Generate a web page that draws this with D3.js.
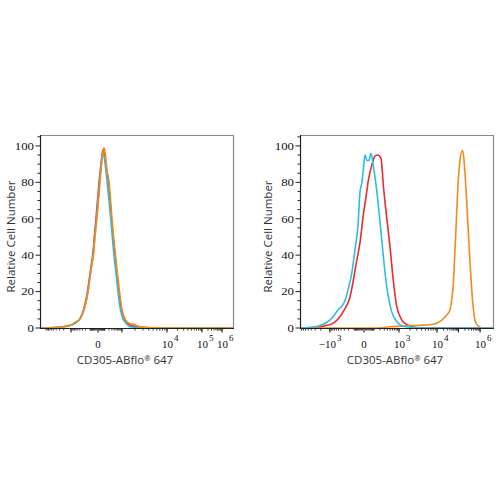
<!DOCTYPE html>
<html><head><meta charset="utf-8">
<script src="https://cdn.jsdelivr.net/npm/d3@7"></script>
<style>body{margin:0;background:#fff}svg{display:block}</style>
</head><body>
<svg id="c" width="500" height="500"></svg>
<script>
// ---- data (x in display channels 0..1000, y = relative cell number) ----
const yTicks = [0, 20, 40, 60, 80, 100];

// left panel
const leftOrangeX = [0,78,130,166,187,207,228,249,264,277,285,295,303,311,319,324,332,339,347,358,373,391,401,412,425,440,456,471,487,503,523,560,622,700,1000];
const leftOrangeY = [0,0.3,1,2,3.5,5,10,20,32,40,50,60,70,80,90,95,99,95,87,80,60,40,30,20,10,5,3,2.2,2,1.2,0.6,0.3,0.1,0,0];
const leftBlueX = [0,78,130,166,187,207,228,249,264,277,285,295,303,311,319,326,334,342,352,368,383,394,404,417,430,446,461,482,518,570,1000];
const leftBlueY = [0,0.2,0.8,1.8,3,5,10,20,32,42,52,63,73,83,92,96,93,86,76,58,40,30,20,10,5,2.5,1,0.4,0.1,0,0];
const leftRedX = [0,78,130,166,187,207,226,246,262,275,283,290,298,306,316,326,334,343,355,370,389,409,422,438,461,487,544,600,1000];
const leftRedY = [0,0.2,0.8,1.8,3,5,10,20,32,42,52,60,70,80,90,98,95,88,80,60,40,20,10,5,2,1,0.3,0,0];

// right panel
const rightOrangeX = [0,380,414,466,518,570,622,674,705,731,751,767,777,794,808,820,829,841,847,855,867,881,895,907,924,948,1000];
const rightOrangeY = [0,0,0.1,0.7,1,1.3,1.5,1.8,2.5,4,6,8,10,24,54,81,92,97.5,95,85,63,36,14,4,1,0,0];
const rightBlueX = [0,41,93,138,171,197,216,233,249,268,285,301,311,321,329,337,347,357,368,380,397,414,432,449,475,501,534,585,622,1000];
const rightBlueY = [0,0.3,1,3,6,10,12,15,21,30,43,57,75,80,88,95,92,92,96,89,76,59,39,23,9,3.6,1,0.3,0,0];
const rightRedX = [0,87,130,173,224,259,294,311,328,342,354,371,389,404,420,432,449,466,483,501,527,553,579,605,648,1000];
const rightRedY = [0,0.3,1.2,2.7,9,17,37,47,62,72,81,89,94.5,95,93,78,61,45,26.5,12,4.5,2,0.7,0.2,0,0];

// x-axis decades (value) and their display channel, per panel
const decadeValues = [-1e3, 0, 1e3, 1e4, 1e5, 1e6];
const leftDecadeChannels  = [160.6, 300.5, 424.8, 658, 839, 943];
const rightDecadeChannels = [155, 331.6, 513, 710, 821, 933];
const leftTickLabels  = [{v:0, base:"0", exp:""}, {v:1e4, base:"10", exp:"4"}, {v:1e5, base:"10", exp:"5"}, {v:1e6, base:"10", exp:"6"}];
const rightTickLabels = [{v:-1e3, base:"\u221210", exp:"3"}, {v:0, base:"0", exp:""}, {v:1e3, base:"10", exp:"3"}, {v:1e4, base:"10", exp:"4"}, {v:1e6, base:"10", exp:"6"}];

const yLabel = "Relative Cell Number";
const xLabel = "CD305-ABflo";

const colors = {red:"#ec2a2f", blue:"#2bbde6", orange:"#f48a1a"};

// ---- drawing ----
const svg = d3.select("#c");
const plotTop = 135, plotBottom = 328;
const serif = "Liberation Serif, Times New Roman, serif";

function minorValues(){
  const out = [];
  for (let d = 10; d <= 1e5; d *= 10)
    for (let k = 1; k <= 9; k++) { out.push(k*d); out.push(-k*d); }
  out.push(1e6);
  return out.filter(v => Math.abs(v) > 0);
}

function drawPanel(cfg){
  const g = svg.append("g");
  const x = d3.scaleLinear().domain([0,1000]).range([cfg.x0, cfg.x1]);
  const y = d3.scaleLinear().domain([0,106]).range([plotBottom, plotTop]);
  const vx = d3.scaleSymlog().constant(100).domain(decadeValues).range(cfg.decCh.map(c => x(c)));

  // frame
  g.append("line").attr("x1",cfg.x0).attr("x2",cfg.x1).attr("y1",plotTop+0.5).attr("y2",plotTop+0.5).attr("stroke","#8a8a8a").attr("stroke-width",1.2);
  g.append("line").attr("x1",cfg.x1+0.5).attr("x2",cfg.x1+0.5).attr("y1",plotTop).attr("y2",plotBottom).attr("stroke","#8a8a8a").attr("stroke-width",1.2);

  // curves
  const line = d3.line().x(d => x(d[0])).y(d => y(d[1])).curve(d3.curveMonotoneX);
  cfg.series.forEach(s => {
    g.append("path").datum(s.x.map((v,i)=>[v, s.y[i]]))
      .attr("d", line).attr("fill","none").attr("stroke", s.color).attr("stroke-width",1.6).attr("stroke-linejoin","round");
  });

  // y axis
  g.append("line").attr("x1",cfg.x0+0.5).attr("x2",cfg.x0+0.5).attr("y1",plotTop).attr("y2",plotBottom+0.5).attr("stroke","#222").attr("stroke-width",1.2);
  const yMinor = d3.range(0, 106, 5);
  g.selectAll(null).data(yMinor).enter().append("line")
    .attr("x1", d => cfg.x0 - (d % 20 === 0 ? 4.5 : 2.5)).attr("x2", cfg.x0)
    .attr("y1", d => y(d)).attr("y2", d => y(d)).attr("stroke","#222").attr("stroke-width",1);
  g.selectAll(null).data(yTicks).enter().append("text")
    .attr("x", cfg.x0 - 6).attr("y", d => y(d) + 3.8).attr("text-anchor","end")
    .attr("font-family",serif).attr("font-size",11).attr("fill","#111")
    .attr("textLength", d => String(d).length * 6.4).attr("lengthAdjust","spacingAndGlyphs")
    .text(d => d);

  // x axis
  g.append("line").attr("x1",cfg.x0).attr("x2",cfg.x1+1).attr("y1",plotBottom+0.5).attr("y2",plotBottom+0.5).attr("stroke","#222").attr("stroke-width",1.2);
  const minors = minorValues().map(v => vx(v)).filter(p => p >= cfg.x0 && p <= cfg.x1);
  g.selectAll(null).data(minors).enter().append("line")
    .attr("x1", d => d).attr("x2", d => d).attr("y1", plotBottom).attr("y2", plotBottom+2.5)
    .attr("stroke","#222").attr("stroke-width",0.9);
  const majors = decadeValues.map(v => vx(v)).filter(p => p >= cfg.x0 && p <= cfg.x1);
  g.selectAll(null).data(majors).enter().append("line")
    .attr("x1", d => d).attr("x2", d => d).attr("y1", plotBottom).attr("y2", plotBottom+4.5)
    .attr("stroke","#222").attr("stroke-width",1.1);
  cfg.labels.forEach(l => {
    const px = vx(l.v);
    if (l.exp) {
      g.append("text").attr("x", px + 6).attr("y", 348).attr("text-anchor","end")
        .attr("font-family",serif).attr("font-size",11).attr("fill","#111").text(l.base);
      g.append("text").attr("x", px + 7).attr("y", 341).attr("text-anchor","start")
        .attr("font-family",serif).attr("font-size",9).attr("fill","#111").text(l.exp);
    } else {
      g.append("text").attr("x", px).attr("y", 348).attr("text-anchor","middle")
        .attr("font-family",serif).attr("font-size",11).attr("fill","#111").text(l.base);
    }
  });

  // axis titles
  g.append("text").attr("transform", `translate(${cfg.yLabX},236.5) rotate(-90)`)
    .attr("text-anchor","middle").attr("font-family","Open Sans, sans-serif").attr("font-size",11.5).attr("fill","#333")
    .text(yLabel);
  const t = g.append("text").attr("x", cfg.xLabX).attr("y", 364).attr("text-anchor","middle")
    .attr("font-family","Open Sans, sans-serif").attr("font-size",11.5).attr("fill","#333");
  t.append("tspan").text(xLabel);
  t.append("tspan").attr("font-size",7.5).attr("dy",-3.5).text("\u00AE");
  t.append("tspan").attr("dy",3.5).text(" 647");
}

drawPanel({x0:40, x1:233, decCh:leftDecadeChannels, labels:leftTickLabels, yLabX:15, xLabX:125,
  series:[{x:leftRedX,y:leftRedY,color:colors.red},{x:leftBlueX,y:leftBlueY,color:colors.blue},{x:leftOrangeX,y:leftOrangeY,color:colors.orange}]});
drawPanel({x0:300, x1:493, decCh:rightDecadeChannels, labels:rightTickLabels, yLabX:272, xLabX:395,
  series:[{x:rightRedX,y:rightRedY,color:colors.red},{x:rightOrangeX,y:rightOrangeY,color:colors.orange},{x:rightBlueX,y:rightBlueY,color:colors.blue}]});
</script>
</body></html>
